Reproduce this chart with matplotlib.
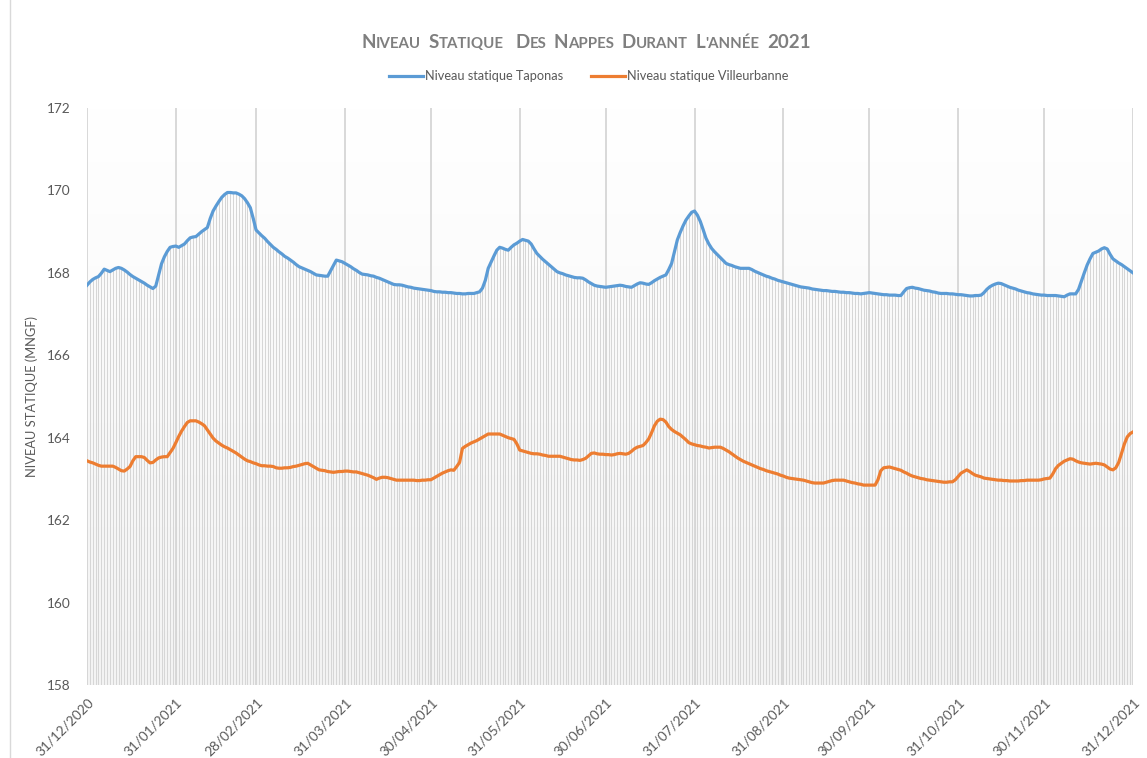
import matplotlib
matplotlib.use("Agg")
import matplotlib.pyplot as plt
import numpy as np
import pandas as pd
from matplotlib.lines import Line2D
from matplotlib.colors import LinearSegmentedColormap

# ---------------- data ----------------
start_date = "2020-12-31"
end_date = "2021-12-31"

taponas = [
    167.70, 167.78, 167.84, 167.88, 167.91, 167.99, 168.09, 168.06, 168.03, 168.07,
    168.11, 168.13, 168.11, 168.07, 168.02, 167.96, 167.91, 167.87, 167.83, 167.79,
    167.75, 167.70, 167.66, 167.62, 167.68, 167.95, 168.22, 168.39, 168.52, 168.62,
    168.64, 168.65, 168.62, 168.66, 168.70, 168.78, 168.85, 168.87, 168.88, 168.94,
    169.00, 169.05, 169.10, 169.32, 169.50, 169.62, 169.73, 169.83, 169.90, 169.95,
    169.95, 169.94, 169.94, 169.91, 169.87, 169.80, 169.70, 169.58, 169.32, 169.04,
    168.97, 168.90, 168.84, 168.76, 168.69, 168.62, 168.57, 168.51, 168.46, 168.40,
    168.36, 168.31, 168.26, 168.20, 168.15, 168.12, 168.09, 168.06, 168.03, 167.99,
    167.95, 167.94, 167.93, 167.92, 167.92, 168.05, 168.18, 168.31, 168.29, 168.27,
    168.23, 168.19, 168.15, 168.10, 168.06, 168.01, 167.97, 167.96, 167.95, 167.93,
    167.92, 167.89, 167.87, 167.84, 167.81, 167.78, 167.75, 167.72, 167.71, 167.71,
    167.70, 167.68, 167.66, 167.65, 167.63, 167.62, 167.61, 167.60, 167.59, 167.58,
    167.57, 167.55, 167.54, 167.54, 167.53, 167.53, 167.52, 167.52, 167.51, 167.50,
    167.50, 167.49, 167.49, 167.50, 167.50, 167.50, 167.52, 167.54, 167.63, 167.82,
    168.11, 168.26, 168.41, 168.55, 168.62, 168.60, 168.57, 168.55, 168.62, 168.68,
    168.72, 168.77, 168.81, 168.79, 168.77, 168.70, 168.58, 168.47, 168.40, 168.33,
    168.27, 168.21, 168.15, 168.09, 168.03, 168.00, 167.98, 167.95, 167.93, 167.91,
    167.89, 167.88, 167.88, 167.87, 167.83, 167.78, 167.74, 167.70, 167.68, 167.67,
    167.66, 167.65, 167.66, 167.67, 167.68, 167.69, 167.70, 167.69, 167.67, 167.66,
    167.65, 167.69, 167.73, 167.76, 167.75, 167.73, 167.72, 167.76, 167.81, 167.85,
    167.89, 167.92, 167.95, 168.08, 168.23, 168.52, 168.80, 168.98, 169.14, 169.28,
    169.38, 169.47, 169.50, 169.40, 169.25, 169.05, 168.84, 168.70, 168.59, 168.51,
    168.44, 168.37, 168.30, 168.23, 168.20, 168.18, 168.15, 168.13, 168.11, 168.11,
    168.11, 168.11, 168.08, 168.04, 168.01, 167.98, 167.95, 167.92, 167.90, 167.87,
    167.85, 167.82, 167.80, 167.78, 167.76, 167.74, 167.72, 167.70, 167.68, 167.66,
    167.65, 167.64, 167.63, 167.61, 167.60, 167.59, 167.58, 167.57, 167.57, 167.56,
    167.55, 167.55, 167.54, 167.53, 167.53, 167.52, 167.52, 167.51, 167.50, 167.50,
    167.49, 167.50, 167.51, 167.52, 167.51, 167.50, 167.49, 167.48, 167.47, 167.47,
    167.46, 167.46, 167.46, 167.45, 167.45, 167.54, 167.62, 167.64, 167.65, 167.63,
    167.62, 167.60, 167.58, 167.57, 167.56, 167.54, 167.53, 167.51, 167.50, 167.50,
    167.50, 167.49, 167.49, 167.48, 167.47, 167.47, 167.46, 167.45, 167.44, 167.44,
    167.45, 167.45, 167.46, 167.52, 167.60, 167.66, 167.70, 167.73, 167.75, 167.74,
    167.71, 167.68, 167.65, 167.63, 167.61, 167.58, 167.56, 167.54, 167.52, 167.51,
    167.49, 167.48, 167.47, 167.46, 167.46, 167.45, 167.45, 167.45, 167.45, 167.44,
    167.43, 167.42, 167.46, 167.49, 167.49, 167.49, 167.60, 167.80, 168.00, 168.19,
    168.34, 168.47, 168.50, 168.53, 168.58, 168.61, 168.58, 168.45, 168.34, 168.29,
    168.24, 168.20, 168.15, 168.10, 168.05, 168.00,
]

villeurbanne = [
    163.44, 163.41, 163.39, 163.36, 163.33, 163.31, 163.31, 163.31, 163.31, 163.31,
    163.28, 163.24, 163.20, 163.19, 163.24, 163.30, 163.44, 163.54, 163.54, 163.54,
    163.52, 163.45, 163.39, 163.40, 163.46, 163.51, 163.53, 163.54, 163.54, 163.64,
    163.74, 163.88, 164.03, 164.16, 164.27, 164.37, 164.41, 164.41, 164.41, 164.38,
    164.34, 164.29, 164.19, 164.09, 163.99, 163.92, 163.87, 163.82, 163.78, 163.75,
    163.71, 163.67, 163.63, 163.58, 163.53, 163.48, 163.44, 163.42, 163.39, 163.37,
    163.34, 163.32, 163.32, 163.31, 163.31, 163.30, 163.27, 163.26, 163.26, 163.27,
    163.27, 163.28, 163.30, 163.31, 163.33, 163.35, 163.37, 163.38, 163.34, 163.30,
    163.26, 163.22, 163.21, 163.20, 163.18, 163.17, 163.16, 163.17, 163.18, 163.18,
    163.19, 163.19, 163.18, 163.17, 163.17, 163.15, 163.13, 163.11, 163.09, 163.06,
    163.03, 162.99, 163.02, 163.04, 163.04, 163.03, 163.01, 162.99, 162.97, 162.97,
    162.97, 162.97, 162.97, 162.97, 162.97, 162.96, 162.96, 162.97, 162.97, 162.98,
    162.98, 163.02, 163.06, 163.10, 163.14, 163.17, 163.20, 163.22, 163.21, 163.30,
    163.40, 163.74, 163.79, 163.83, 163.87, 163.90, 163.93, 163.97, 164.01, 164.05,
    164.09, 164.09, 164.09, 164.09, 164.09, 164.06, 164.03, 164.00, 163.98, 163.96,
    163.85, 163.70, 163.68, 163.66, 163.64, 163.62, 163.61, 163.61, 163.60, 163.58,
    163.57, 163.55, 163.55, 163.55, 163.55, 163.55, 163.53, 163.51, 163.49, 163.47,
    163.46, 163.46, 163.45, 163.47, 163.50, 163.56, 163.62, 163.63, 163.61, 163.60,
    163.60, 163.59, 163.59, 163.58, 163.59, 163.61, 163.62, 163.61, 163.60, 163.62,
    163.67, 163.73, 163.77, 163.79, 163.81, 163.88, 163.97, 164.12, 164.29, 164.40,
    164.45, 164.44, 164.38, 164.27, 164.20, 164.15, 164.11, 164.07, 164.01, 163.95,
    163.88, 163.85, 163.83, 163.81, 163.80, 163.78, 163.77, 163.75, 163.76, 163.77,
    163.77, 163.77, 163.74, 163.70, 163.66, 163.61, 163.56, 163.51, 163.47, 163.43,
    163.40, 163.37, 163.34, 163.31, 163.28, 163.25, 163.23, 163.20, 163.18, 163.16,
    163.14, 163.12, 163.09, 163.07, 163.04, 163.02, 163.01, 163.00, 162.99, 162.98,
    162.97, 162.95, 162.93, 162.91, 162.90, 162.90, 162.90, 162.90, 162.92, 162.94,
    162.96, 162.97, 162.97, 162.97, 162.97, 162.95, 162.93, 162.91, 162.90, 162.88,
    162.87, 162.85, 162.85, 162.85, 162.85, 162.85, 162.98, 163.20, 163.27, 163.28,
    163.29, 163.27, 163.25, 163.23, 163.21, 163.17, 163.14, 163.10, 163.07, 163.05,
    163.03, 163.01, 163.00, 162.98, 162.97, 162.96, 162.95, 162.94, 162.93, 162.92,
    162.92, 162.93, 162.93, 162.98, 163.06, 163.14, 163.18, 163.22, 163.18, 163.13,
    163.09, 163.07, 163.05, 163.02, 163.01, 163.00, 162.99, 162.98, 162.97, 162.97,
    162.96, 162.96, 162.95, 162.95, 162.95, 162.95, 162.96, 162.96, 162.97, 162.97,
    162.97, 162.97, 162.97, 162.98, 163.00, 163.01, 163.02, 163.12, 163.25, 163.33,
    163.38, 163.43, 163.46, 163.49, 163.48, 163.44, 163.41, 163.39, 163.38, 163.37,
    163.36, 163.37, 163.38, 163.37, 163.36, 163.34, 163.29, 163.24, 163.22, 163.27,
    163.40, 163.62, 163.85, 164.02, 164.10, 164.14,
]

tick_dates = ["2020-12-31", "2021-01-31", "2021-02-28", "2021-03-31", "2021-04-30",
              "2021-05-31", "2021-06-30", "2021-07-31", "2021-08-31", "2021-09-30",
              "2021-10-31", "2021-11-30", "2021-12-31"]
tick_labels = ["31/12/2020", "31/01/2021", "28/02/2021", "31/03/2021", "30/04/2021",
               "31/05/2021", "30/06/2021", "31/07/2021", "31/08/2021", "30/09/2021",
               "31/10/2021", "30/11/2021", "31/12/2021"]
y_ticks = [158, 160, 162, 164, 166, 168, 170, 172]

series_names = ["Niveau statique Taponas", "Niveau statique Villeurbanne"]
title_text = "NIVEAU STATIQUE  DES NAPPES DURANT L'ANNÉE 2021"

# ---------------- figure ----------------
W, H = 1147, 758
plt.rcParams["font.family"] = ["Lato", "DejaVu Sans"]
fig = plt.figure(figsize=(W / 100, H / 100), dpi=100)
fig.patch.set_facecolor("white")

ax_l, ax_r, ax_t, ax_b = 87, 1133, 108, 685
ax = fig.add_axes([ax_l / W, 1 - ax_b / H, (ax_r - ax_l) / W, (ax_b - ax_t) / H])

dates = pd.date_range(start_date, end_date, freq="D")
tick_dt = pd.to_datetime(tick_dates)

# subtle background gradient
cmap = LinearSegmentedColormap.from_list("bg", ["#ffffff", "#f4f4f4"])
grad = np.linspace(0, 1, 256).reshape(-1, 1)
ax.imshow(grad, aspect="auto", cmap=cmap, origin="upper",
          extent=[dates[0], dates[-1], 158, 172], zorder=0)

# drop lines from Taponas
ax.vlines(dates, 158, taponas, color="#d6d6d6", lw=0.75, zorder=1)
# month gridlines
for t in tick_dt:
    ax.axvline(t, color="#d6d6d6", lw=1.3, zorder=1.5)

ax.plot(dates, taponas, color="#5b9bd5", lw=2.3, zorder=3, solid_joinstyle="round")
ax.plot(dates, villeurbanne, color="#ed7d31", lw=2.3, zorder=3, solid_joinstyle="round")

ax.set_xlim(dates[0], dates[-1])
ax.set_ylim(158, 172)
ax.set_yticks(y_ticks)
ax.set_yticklabels([str(v) for v in y_ticks])
ax.set_xticks(tick_dt)
ax.set_xticklabels(tick_labels, rotation=45, ha="right", va="top",
                   rotation_mode="anchor")
ax.tick_params(axis="both", length=0, colors="#595959", labelsize=9.8)
ax.tick_params(axis="y", pad=12)
ax.tick_params(axis="x", pad=8)
for s in ax.spines.values():
    s.set_visible(False)

ax.set_ylabel("NIVEAU STATIQUE (MNGF)", color="#595959", fontsize=9.3)
ax.yaxis.set_label_coords(-(ax_l - 38) / (ax_r - ax_l), 0.5)

# legend
handles = [Line2D([], [], color="#5b9bd5", lw=2.3),
           Line2D([], [], color="#ed7d31", lw=2.3)]
fig.legend(handles, series_names, loc="center", ncol=2, frameon=False,
           bbox_to_anchor=(589 / W, 1 - 76 / H), fontsize=9.2,
           handlelength=2.6, handletextpad=0.2, columnspacing=2.2,
           labelcolor="#595959")

# small-caps title
big, small = 13.5, 10.8
pieces = []
for word in title_text.split(" "):
    if word == "":
        pieces.append((" ", small))
        continue
    if word.isdigit():
        pieces.append((word, big))
    elif word.startswith("L'"):
        pieces.append(("L", big))
        pieces.append((word[1:].upper(), small))
    else:
        pieces.append((word[0], big))
        pieces.append((word[1:].upper(), small))
    pieces.append(("  ", small))
pieces = pieces[:-1]

renderer = fig.canvas.get_renderer()
texts = []
total = 0
for s, fs in pieces:
    t = fig.text(0, 0, s, fontsize=fs, fontweight="bold", color="#7f7f7f",
                 ha="left", va="baseline")
    bb = t.get_window_extent(renderer=renderer)
    w = bb.width if s.strip() else fs * 100 / 72 * 0.25 * len(s)
    texts.append((t, w))
    total += w
x0 = 586 - total / 2
base_y = 1 - 48 / H
for t, w in texts:
    t.set_position((x0 / W, base_y))
    x0 += w

# left border line of the chart frame
fig.add_artist(Line2D([10 / W, 10 / W], [0, 1], color="#d9d9d9", lw=1,
                      transform=fig.transFigure))

fig.savefig("out.png", dpi=100, facecolor="white")
